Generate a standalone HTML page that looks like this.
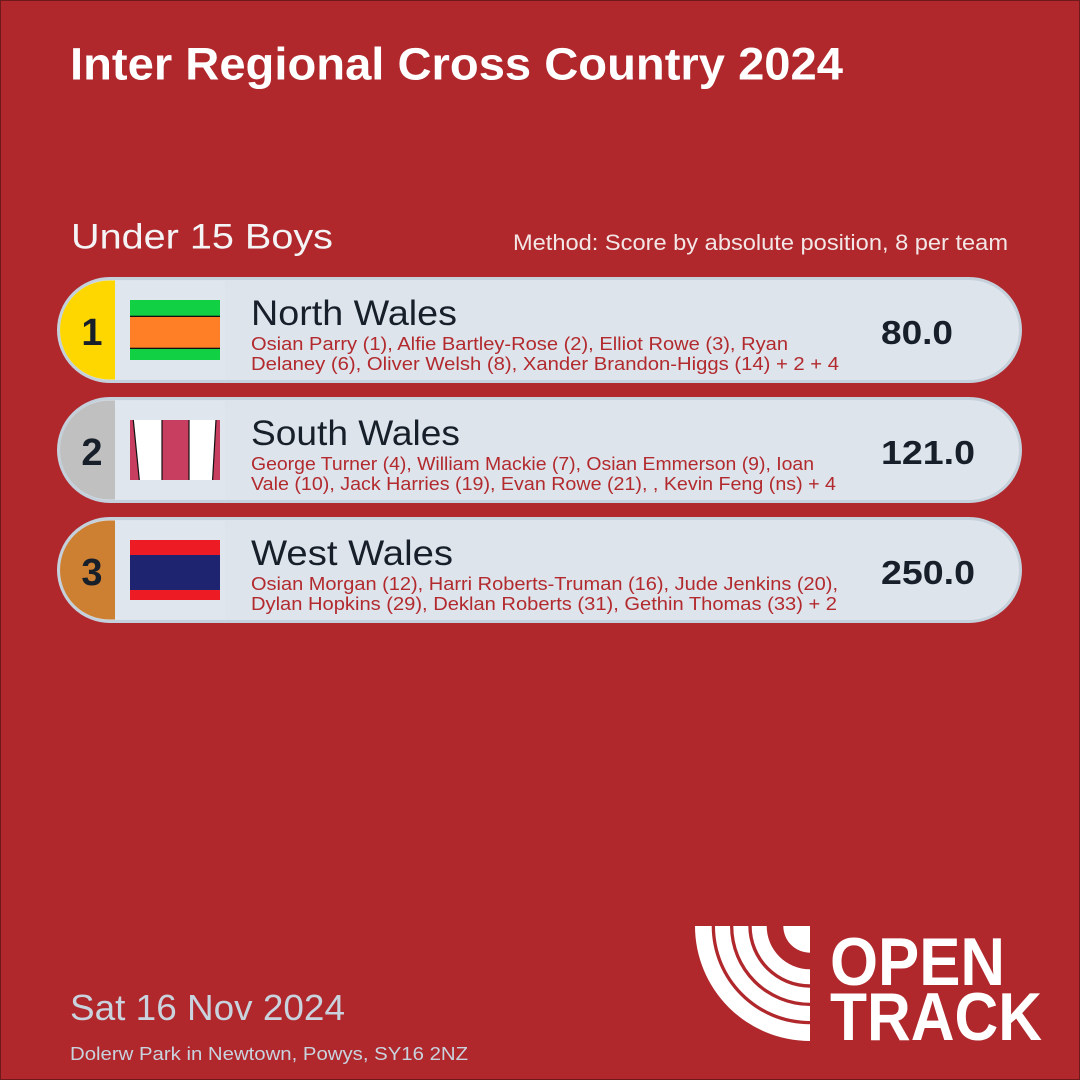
<!DOCTYPE html>
<html><head><meta charset="utf-8">
<style>
html,body{margin:0;padding:0;background:#b0282c;}
svg{display:block;}
text{font-family:"Liberation Sans",sans-serif;}
</style></head>
<body>
<svg width="1080" height="1080" viewBox="0 0 1080 1080" xmlns="http://www.w3.org/2000/svg">
<defs>
  <clipPath id="c1"><rect x="60" y="280.5" width="959" height="99" rx="49.5"/></clipPath>
  <clipPath id="c2"><rect x="60" y="400.5" width="959" height="99" rx="49.5"/></clipPath>
  <clipPath id="c3"><rect x="60" y="520.5" width="959" height="99" rx="49.5"/></clipPath>
  <clipPath id="logoClip"><rect x="690" y="926" width="120" height="120"/></clipPath>
</defs>
<rect x="0.5" y="0.5" width="1079" height="1079" fill="#b0282c" stroke="#6e1a1c" stroke-width="1"/>

<text x="70" y="79.5" font-size="45" font-weight="bold" fill="#ffffff" textLength="773" lengthAdjust="spacingAndGlyphs">Inter Regional Cross Country 2024</text>

<text x="71" y="248.5" font-size="35" fill="#f4f4f6" textLength="262" lengthAdjust="spacingAndGlyphs">Under 15 Boys</text>
<text x="513" y="250" font-size="22.5" fill="#f3e6e6" textLength="495" lengthAdjust="spacingAndGlyphs">Method: Score by absolute position, 8 per team</text>

<!-- Row 1 -->
<rect x="58.5" y="278.5" width="962" height="103" rx="51.5" fill="#dde4eb" stroke="#c4d0db" stroke-width="3"/>
<rect x="57" y="278" width="58" height="104" fill="#ffd700" clip-path="url(#c1)"/>
<rect x="115" y="281" width="110" height="98" fill="#e0e6ed"/>
<rect x="130" y="300" width="90" height="60" fill="#12d044"/>
<rect x="130" y="316" width="90" height="32" fill="#ff7f27"/>
<rect x="130" y="315.7" width="90" height="1.3" fill="#111"/>
<rect x="130" y="347.7" width="90" height="1.3" fill="#111"/>
<text x="92" y="345" font-size="38" font-weight="bold" fill="#17202a" text-anchor="middle">1</text>
<text x="251" y="325" font-size="35" fill="#17202a" textLength="206" lengthAdjust="spacingAndGlyphs">North Wales</text>
<text x="251" y="350" font-size="18.5" fill="#b22a2e" textLength="537" lengthAdjust="spacingAndGlyphs">Osian Parry (1), Alfie Bartley-Rose (2), Elliot Rowe (3), Ryan</text>
<text x="251" y="370" font-size="18.5" fill="#b22a2e" textLength="588" lengthAdjust="spacingAndGlyphs">Delaney (6), Oliver Welsh (8), Xander Brandon-Higgs (14) + 2 + 4</text>
<text x="881" y="344" font-size="33" font-weight="bold" fill="#17202a" textLength="72" lengthAdjust="spacingAndGlyphs">80.0</text>

<!-- Row 2 -->
<rect x="58.5" y="398.5" width="962" height="103" rx="51.5" fill="#dde4eb" stroke="#c4d0db" stroke-width="3"/>
<rect x="57" y="398" width="58" height="104" fill="#c0c0c0" clip-path="url(#c2)"/>
<rect x="115" y="401" width="110" height="98" fill="#e0e6ed"/>
<rect x="130" y="420" width="90" height="60" fill="#c83e60"/>
<polygon points="133.3,420 161.7,420 161.7,480 139.3,480" fill="#ffffff"/>
<polygon points="189.3,420 215.7,420 212.3,480 189.3,480" fill="#ffffff"/>
<line x1="133.3" y1="420" x2="139.3" y2="480" stroke="#111" stroke-width="1.2"/>
<line x1="162" y1="420" x2="162" y2="480" stroke="#111" stroke-width="1.2"/>
<line x1="189" y1="420" x2="189" y2="480" stroke="#111" stroke-width="1.2"/>
<line x1="216" y1="420" x2="212.6" y2="480" stroke="#111" stroke-width="1.2"/>
<text x="92" y="465" font-size="38" font-weight="bold" fill="#17202a" text-anchor="middle">2</text>
<text x="251" y="445" font-size="35" fill="#17202a" textLength="209" lengthAdjust="spacingAndGlyphs">South Wales</text>
<text x="251" y="470" font-size="18.5" fill="#b22a2e" textLength="563" lengthAdjust="spacingAndGlyphs">George Turner (4), William Mackie (7), Osian Emmerson (9), Ioan</text>
<text x="251" y="490" font-size="18.5" fill="#b22a2e" textLength="585" lengthAdjust="spacingAndGlyphs">Vale (10), Jack Harries (19), Evan Rowe (21), , Kevin Feng (ns) + 4</text>
<text x="881" y="464" font-size="33" font-weight="bold" fill="#17202a" textLength="94" lengthAdjust="spacingAndGlyphs">121.0</text>

<!-- Row 3 -->
<rect x="58.5" y="518.5" width="962" height="103" rx="51.5" fill="#dde4eb" stroke="#c4d0db" stroke-width="3"/>
<rect x="57" y="518" width="58" height="104" fill="#cd7f32" clip-path="url(#c3)"/>
<rect x="115" y="521" width="110" height="98" fill="#e0e6ed"/>
<rect x="130" y="540" width="90" height="60" fill="#ed1c24"/>
<rect x="130" y="555" width="90" height="35" fill="#1f2470"/>
<text x="92" y="585" font-size="38" font-weight="bold" fill="#17202a" text-anchor="middle">3</text>
<text x="251" y="565" font-size="35" fill="#17202a" textLength="202" lengthAdjust="spacingAndGlyphs">West Wales</text>
<text x="251" y="590" font-size="18.5" fill="#b22a2e" textLength="587" lengthAdjust="spacingAndGlyphs">Osian Morgan (12), Harri Roberts-Truman (16), Jude Jenkins (20),</text>
<text x="251" y="610" font-size="18.5" fill="#b22a2e" textLength="586" lengthAdjust="spacingAndGlyphs">Dylan Hopkins (29), Deklan Roberts (31), Gethin Thomas (33) + 2</text>
<text x="881" y="584" font-size="33" font-weight="bold" fill="#17202a" textLength="94" lengthAdjust="spacingAndGlyphs">250.0</text>

<!-- Footer -->
<text x="70" y="1020" font-size="36" fill="#c9d3de" textLength="275" lengthAdjust="spacingAndGlyphs">Sat 16 Nov 2024</text>
<text x="70" y="1060" font-size="18" fill="#c9d3de" textLength="398" lengthAdjust="spacingAndGlyphs">Dolerw Park in Newtown, Powys, SY16 2NZ</text>

<!-- Logo arcs: center (810,926) -->
<g clip-path="url(#logoClip)" fill="#ffffff">
  <path d="M695,926 A115,115 0 0 0 810,1041 L810,1024.3 A98.3,98.3 0 0 1 711.7,926 Z"/>
  <path d="M715,926 A95,95 0 0 0 810,1021 L810,1006 A80,80 0 0 1 730,926 Z"/>
  <path d="M733.3,926 A76.7,76.7 0 0 0 810,1002.7 L810,987.7 A61.7,61.7 0 0 1 748.3,926 Z"/>
  <path d="M751.7,926 A58.3,58.3 0 0 0 810,984.3 L810,969.3 A43.3,43.3 0 0 1 766.7,926 Z"/>
  <path d="M783.3,926 A26.7,26.7 0 0 0 810,952.7 L810,926 Z"/>
</g>
<text x="830" y="985" font-size="68" font-weight="bold" fill="#ffffff" textLength="175" lengthAdjust="spacingAndGlyphs">OPEN</text>
<text x="830" y="1040" font-size="68" font-weight="bold" fill="#ffffff" textLength="212" lengthAdjust="spacingAndGlyphs">TRACK</text>
</svg>
</body></html>
